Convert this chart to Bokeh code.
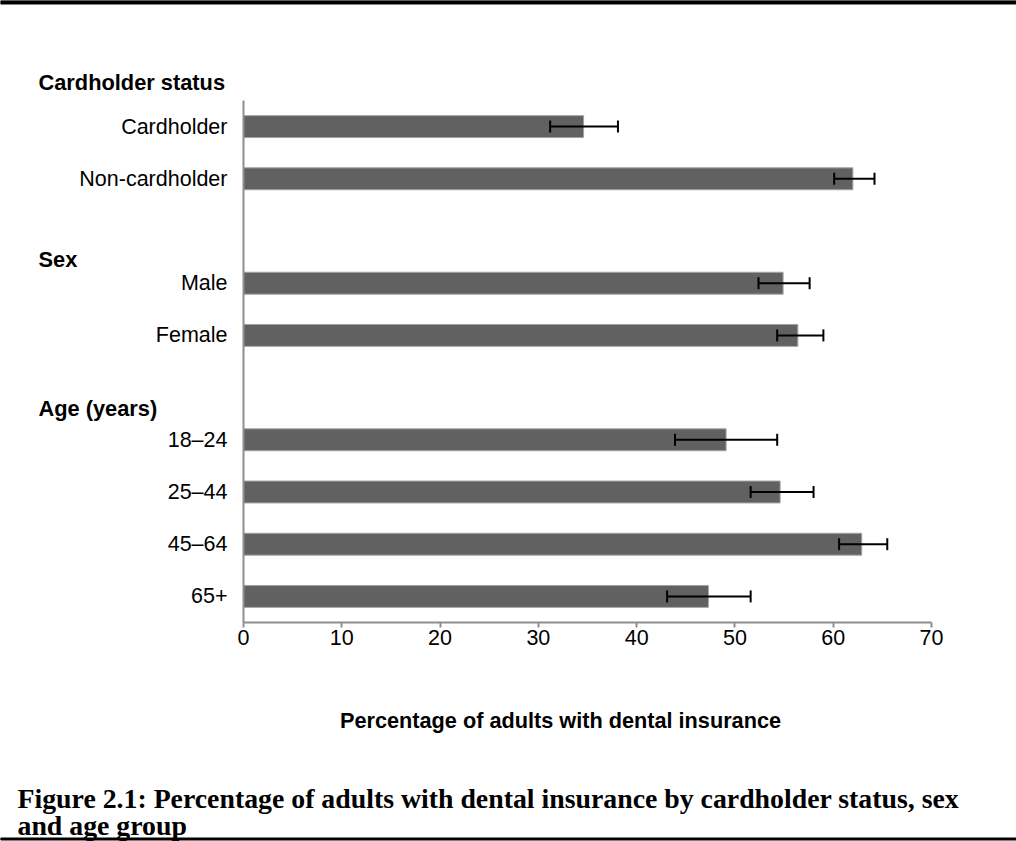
from bokeh.plotting import figure
from bokeh.models import ColumnDataSource, Range1d, FixedTicker, Whisker, TeeHead
from bokeh.embed import file_html
from bokeh.resources import INLINE
from bokeh.core.properties import value

# ---------------- data ----------------
group_titles = ["Cardholder status", "Sex", "Age (years)"]
group_members = [
    ["Cardholder", "Non-cardholder"],
    ["Male", "Female"],
    ["18–24", "25–44", "45–64", "65+"],
]
pct = [34.6, 62.0, 54.9, 56.4, 49.1, 54.6, 62.9, 47.3]
ci_low = [31.2, 60.1, 52.4, 54.3, 43.9, 51.6, 60.6, 43.1]
ci_high = [38.1, 64.2, 57.6, 59.0, 54.3, 58.0, 65.5, 51.6]
x_ticks = [0, 10, 20, 30, 40, 50, 60, 70]
x_min, x_max = 0, 70
x_title = "Percentage of adults with dental insurance"
caption_lines = [
    "Figure 2.1: Percentage of adults with dental insurance by cardholder status, sex",
    "and age group",
]

# ------------- slot layout (one empty slot between groups) -------------
labels, slots, group_first = [], [], []
s = 0
for members in group_members:
    group_first.append(s)
    for m in members:
        labels.append(m)
        slots.append(s)
        s += 1
    s += 1
n_slots = s - 1
header_offset = [0.84, 0.45, 0.6]

# ------------- page geometry (pixels) -------------
W, H = 1016, 841
AX_LEFT, AX_RIGHT = 243, 931      # pixel of x_min / x_max
AX_TOP, AX_BOTTOM = 100, 622      # pixel of top / bottom slot edges
kx = (AX_RIGHT - AX_LEFT) / (x_max - x_min)
ky = (AX_BOTTOM - AX_TOP) / n_slots
y_top_val = -0.5
y_bot_val = n_slots - 0.5


def px2x(px):
    return x_min + (px - AX_LEFT) / kx


def px2y(py):
    return y_top_val + (py - AX_TOP) / ky


FONT = "Liberation Sans"
FS = "21.5px"
AXIS_GREY = "#8e8e8e"

src = ColumnDataSource(dict(y=slots, pct=pct, lo=ci_low, hi=ci_high,
                            zero=[x_min] * len(pct)))

p = figure(width=W, height=H, output_backend="svg", toolbar_location=None,
           x_range=Range1d(px2x(0), px2x(W)), y_range=Range1d(px2y(H), px2y(0)),
           min_border=0, min_border_left=0, min_border_right=0,
           min_border_top=0, min_border_bottom=0)
p.outline_line_color = None
p.grid.visible = False
p.background_fill_color = "white"
p.border_fill_color = "white"

p.hbar(y="y", left="zero", right="pct", height=0.42, source=src,
       fill_color="#616161", line_color="#a3a3a3", line_width=1)

wh = Whisker(base="y", lower="lo", upper="hi", source=src, dimension="width",
             line_color="black", line_width=2, level="overlay",
             lower_head=TeeHead(size=12, line_color="black", line_width=2),
             upper_head=TeeHead(size=12, line_color="black", line_width=2))
p.add_layout(wh)

# x axis drawn at the bottom edge of the slots, spanning 0..70 only
xa = p.xaxis[0]
xa.fixed_location = y_bot_val
xa.bounds = (x_min, x_max)
xa.ticker = FixedTicker(ticks=x_ticks)
xa.minor_tick_line_color = None
xa.axis_line_color = AXIS_GREY
xa.axis_line_width = 2
xa.major_tick_line_color = AXIS_GREY
xa.major_tick_line_width = 2
xa.major_tick_out = 5
xa.major_tick_in = 0
xa.major_label_standoff = 2
xa.major_label_text_font = FONT
xa.major_label_text_font_size = FS
xa.major_label_text_color = "black"

# y axis at x = 0 with category labels
ya = p.yaxis[0]
ya.fixed_location = x_min
ya.bounds = (y_top_val, y_bot_val)
ya.ticker = FixedTicker(ticks=slots)
ya.major_label_overrides = {sl: lab for sl, lab in zip(slots, labels)}
ya.minor_tick_line_color = None
ya.major_tick_line_color = None
ya.major_tick_out = 0
ya.major_tick_in = 0
ya.axis_line_color = AXIS_GREY
ya.axis_line_width = 2
ya.major_label_standoff = 16
ya.major_label_text_font = FONT
ya.major_label_text_font_size = FS
ya.major_label_text_color = "black"

# group headers
p.text(x=[px2x(38)] * len(group_titles),
       y=[f - o for f, o in zip(group_first, header_offset)],
       text=group_titles, text_align="left", text_baseline="middle",
       text_font=value(FONT), text_font_size="21.8px", text_font_style="bold",
       text_color="black")

# x-axis title
p.text(x=[px2x(560)], y=[px2y(720)], text=[x_title],
       text_align="center", text_baseline="middle",
       text_font=value(FONT), text_font_size="21.7px", text_font_style="bold",
       text_color="black")

# caption and horizontal rules
p.text(x=[px2x(17)] * 2, y=[px2y(798), px2y(825)], text=caption_lines,
       text_align="left", text_baseline="alphabetic",
       text_font=value("Liberation Serif"), text_font_size="27.8px",
       text_font_style="bold", text_color="black")
p.quad(left=[px2x(0)], right=[px2x(W)], top=[px2y(0)], bottom=[px2y(3.5)],
       color="black")
p.quad(left=[px2x(0)], right=[px2x(W)], top=[px2y(837.5)], bottom=[px2y(839.5)],
       color="black")

open("out.html", "w").write(file_html(p, INLINE))
